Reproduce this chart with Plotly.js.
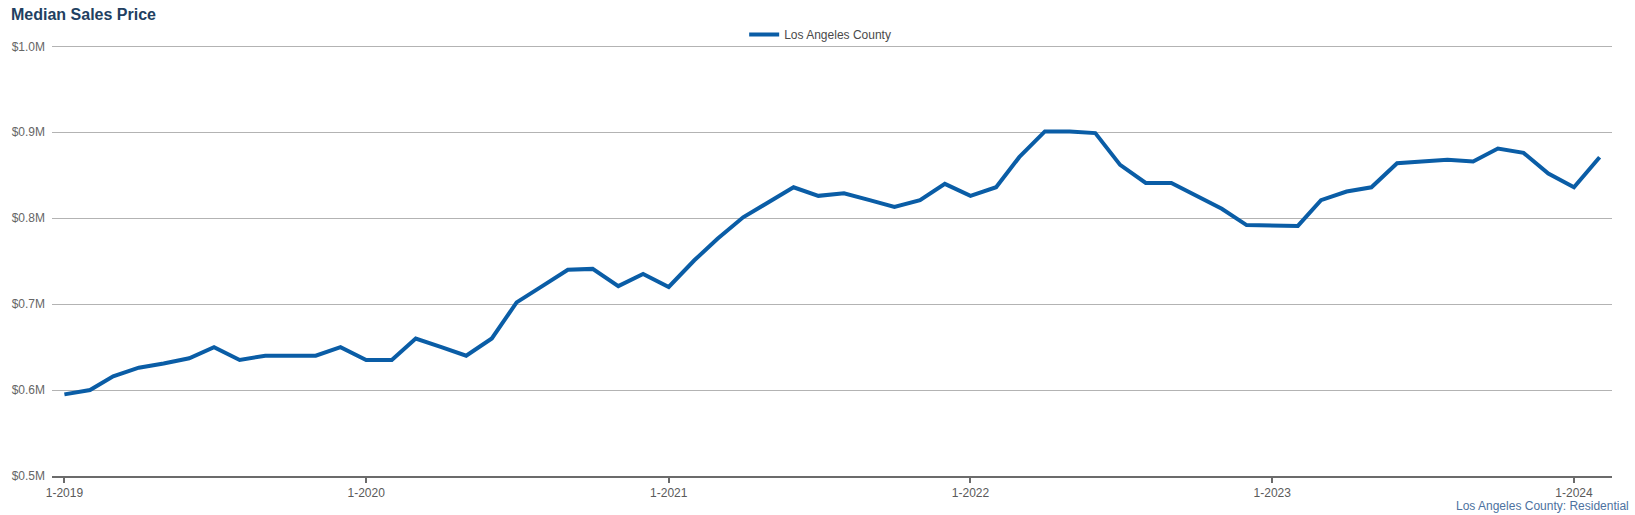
<!DOCTYPE html>
<html>
<head>
<meta charset="utf-8">
<script src="https://cdn.plot.ly/plotly-3.0.1.min.js"></script>
<style>
  html, body { margin: 0; padding: 0; background: #ffffff; }
  #chart { width: 1635px; height: 515px; }
</style>
</head>
<body>
<div id="chart"></div>
<script>
// ---- Data ----
const months = [
  '2019-01-01','2019-02-01','2019-03-01','2019-04-01','2019-05-01','2019-06-01','2019-07-01','2019-08-01','2019-09-01','2019-10-01','2019-11-01','2019-12-01',
  '2020-01-01','2020-02-01','2020-03-01','2020-04-01','2020-05-01','2020-06-01','2020-07-01','2020-08-01','2020-09-01','2020-10-01','2020-11-01','2020-12-01',
  '2021-01-01','2021-02-01','2021-03-01','2021-04-01','2021-05-01','2021-06-01','2021-07-01','2021-08-01','2021-09-01','2021-10-01','2021-11-01','2021-12-01',
  '2022-01-01','2022-02-01','2022-03-01','2022-04-01','2022-05-01','2022-06-01','2022-07-01','2022-08-01','2022-09-01','2022-10-01','2022-11-01','2022-12-01',
  '2023-01-01','2023-02-01','2023-03-01','2023-04-01','2023-05-01','2023-06-01','2023-07-01','2023-08-01','2023-09-01','2023-10-01','2023-11-01','2023-12-01',
  '2024-01-01','2024-02-01'
];
const medianPrice = [
  595000, 600000, 616000, 626000, 631000, 637000, 650000, 635000, 640000, 640000, 640000, 650000,
  635000, 635000, 660000, 650000, 640000, 660000, 702000, 721000, 740000, 741000, 721000, 735000,
  720000, 751000, 776000, 801000, 818000, 836000, 826000, 829000, 821000, 813000, 821000, 840000,
  826000, 836000, 871000, 901000, 901000, 899000, 862000, 841000, 841000, 826000, 811000, 792000,
  791000, 791000, 821000, 831000, 836000, 864000, 866000, 868000, 866000, 881000, 876000, 852000,
  836000, 871000
];
const seriesName = 'Los Angeles County';
const xTickVals = ['2019-01-01','2020-01-01','2021-01-01','2022-01-01','2023-01-01','2024-01-01'];
const xTickText = ['1-2019','1-2020','1-2021','1-2022','1-2023','1-2024'];
const yTickVals = [500000, 600000, 700000, 800000, 900000, 1000000];
const yTickText = ['$0.5M','$0.6M','$0.7M','$0.8M','$0.9M','$1.0M'];
const chartTitle = 'Median Sales Price';
const footerText = 'Los Angeles County: Residential';

// ---- Chart ----
const FONT = 'Liberation Sans, Arial, Helvetica, sans-serif';

const trace = {
  x: months,
  y: medianPrice,
  type: 'scatter',
  mode: 'lines',
  name: seriesName,
  line: { color: '#0a5da6', width: 4, shape: 'linear' },
  hoverinfo: 'x+y'
};

const layout = {
  width: 1635,
  height: 515,
  margin: { l: 52, r: 23, t: 44, b: 39, pad: 0 },
  paper_bgcolor: '#ffffff',
  plot_bgcolor: '#ffffff',
  font: { family: FONT, size: 12, color: '#666666' },
  title: {
    text: '<b>' + chartTitle + '</b>',
    font: { family: FONT, size: 16, color: '#223f61' },
    xref: 'container', x: 11 / 1635, xanchor: 'left',
    yref: 'container', y: 1 - 14.5 / 515, yanchor: 'middle'
  },
  showlegend: true,
  legend: {
    orientation: 'h',
    x: 0.4437, xanchor: 'left',
    y: 1.022, yanchor: 'middle',
    font: { family: FONT, size: 12, color: '#4a4a4a' },
    bgcolor: 'rgba(0,0,0,0)'
  },
  xaxis: {
    type: 'date',
    range: ['2018-12-17', '2024-02-16'],
    tickvals: xTickVals,
    ticktext: xTickText,
    showgrid: false,
    zeroline: false,
    showline: true,
    linecolor: '#6b6b6b',
    linewidth: 2,
    ticks: 'outside',
    ticklen: 5,
    tickwidth: 2,
    tickcolor: '#6b6b6b',
    tickfont: { family: FONT, size: 12, color: '#5a5a5a' },
    fixedrange: true
  },
  yaxis: {
    range: [500000, 1002700],
    tickvals: yTickVals,
    ticktext: yTickText,
    showgrid: true,
    gridcolor: '#b3b3b3',
    gridwidth: 1,
    zeroline: false,
    showline: false,
    ticks: '',
    ticklabelstandoff: 6,
    tickfont: { family: FONT, size: 12, color: '#666666' },
    fixedrange: true
  },
  annotations: [
    {
      text: footerText,
      xref: 'paper', x: 1.0124, xanchor: 'right',
      yref: 'paper', y: -0.0695, yanchor: 'middle',
      showarrow: false,
      font: { family: FONT, size: 12, color: '#4d72a0' }
    }
  ]
};

Plotly.newPlot('chart', [trace], layout, { displayModeBar: false, staticPlot: false, responsive: false });
</script>
</body>
</html>
